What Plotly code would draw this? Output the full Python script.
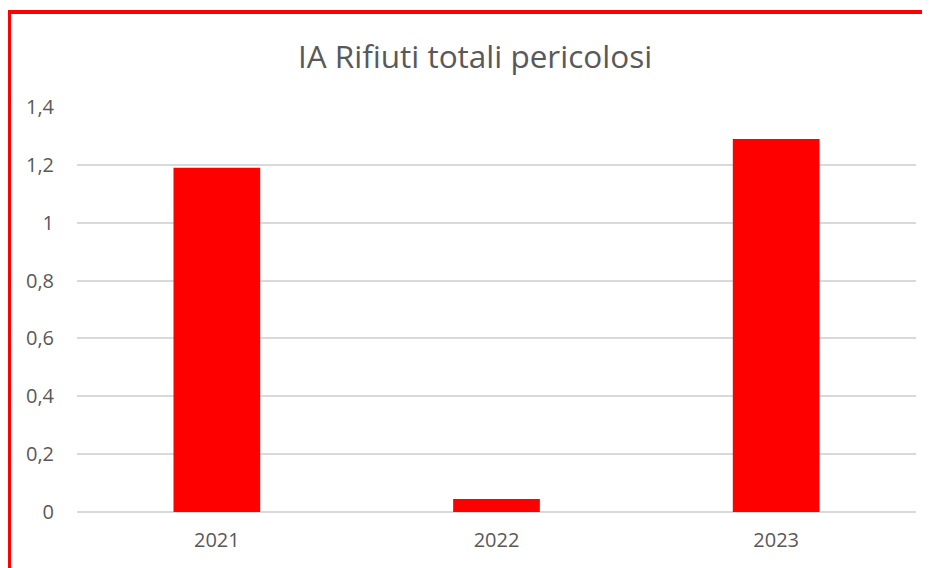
import plotly.graph_objects as go

anni = ['2021', '2022', '2023']
valori = [1.19, 0.045, 1.29]
y_ticks = [0, 0.2, 0.4, 0.6, 0.8, 1, 1.2, 1.4]

W, H = 930, 568
OFF = 8  # page body margin shift
L, R, T, B = 77, 14, 107, 56
pw, ph = W - L - R, H - T - B

fig = go.Figure(go.Bar(
    x=anni,
    y=valori,
    marker_color='#ff0000',
    marker_line_width=0,
))

fig.update_layout(
    width=W,
    height=H,
    margin=dict(l=L - OFF, r=R + OFF, t=T - OFF, b=B + OFF),
    paper_bgcolor='white',
    plot_bgcolor='white',
    separators=', ',
    bargap=0.69,
    showlegend=False,
    font=dict(family='Open Sans, Liberation Sans, sans-serif', color='#595959'),
    title=dict(
        text='IA Rifiuti totali pericolosi',
        x=(475 - OFF) / W,
        xanchor='center',
        y=1 - (57 - OFF) / H,
        yanchor='middle',
        font=dict(size=31.5, color='#595959'),
    ),
    xaxis=dict(
        showgrid=False,
        showline=False,
        ticks='',
        tickfont=dict(size=20),
        ticklabelstandoff=14,
    ),
    yaxis=dict(
        range=[0, 1.4005],
        tickvals=y_ticks,
        gridcolor='#d9d9d9',
        gridwidth=1.5,
        zeroline=True,
        zerolinecolor='#d9d9d9',
        zerolinewidth=1.5,
        showline=False,
        ticks='',
        tickfont=dict(size=20),
        ticklabelstandoff=22,
    ),
)

# red frame (left and top visible, right/bottom beyond the picture)
fig.add_shape(
    type='line', xref='paper', yref='paper',
    x0=(9 - L) / pw, x1=(9 - L) / pw,
    y0=-B / ph - 0.1, y1=(H - B - 12) / ph,
    line=dict(color='#ff0000', width=4),
)
fig.add_shape(
    type='line', xref='paper', yref='paper',
    x0=(7 - L) / pw, x1=(W + 10 - L) / pw,
    y0=(H - B - 12) / ph, y1=(H - B - 12) / ph,
    line=dict(color='#ff0000', width=4),
)

fig.write_html('out.html')
